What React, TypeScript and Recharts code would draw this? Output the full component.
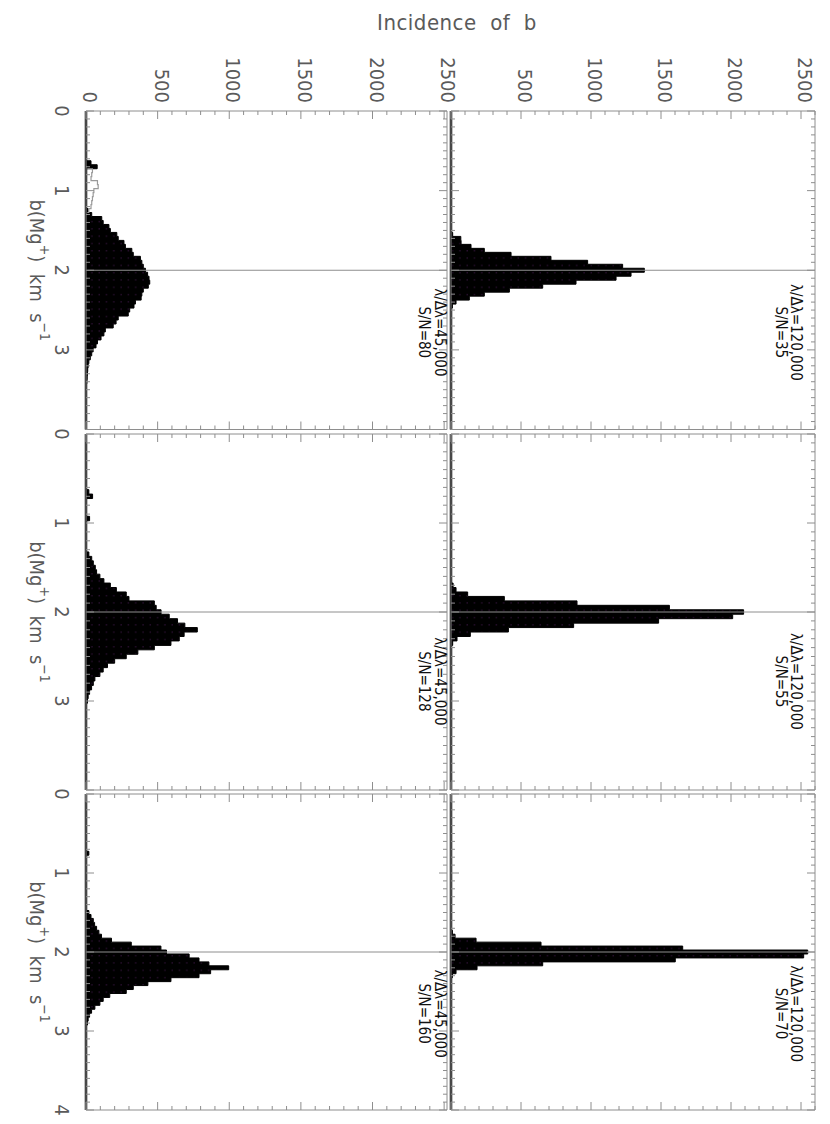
import React from 'react';
import { ComposedChart, Area, Line, XAxis, YAxis, ReferenceLine, ReferenceDot } from 'recharts';

type Bin = [number, number];

// ---- Data: histogram bins [b centre (km/s), incidence] ----
// lambda/dlambda = 120,000
const histR120SN35: Bin[] = [
  [1.5, 0], [1.55, 12], [1.6, 70], [1.65, 72], [1.7, 143], [1.75, 238], [1.8, 429], [1.85, 714],
  [1.9, 976], [1.95, 1226], [2.0, 1381], [2.05, 1286], [2.1, 1179], [2.15, 893], [2.2, 655],
  [2.25, 417], [2.3, 238], [2.35, 131], [2.4, 36], [2.45, 10], [2.5, 0],
];
const histR120SN55: Bin[] = [
  [1.65, 0], [1.7, 15], [1.75, 36], [1.8, 119], [1.85, 381], [1.9, 900], [1.95, 1560], [2.0, 2090],
  [2.05, 2012], [2.1, 1483], [2.15, 876], [2.2, 410], [2.25, 138], [2.3, 43], [2.35, 12], [2.4, 0],
];
const histR120SN70: Bin[] = [
  [1.7, 0], [1.75, 10], [1.8, 29], [1.85, 179], [1.9, 643], [1.95, 1655], [2.0, 2548], [2.05, 2519],
  [2.1, 1602], [2.15, 655], [2.2, 186], [2.25, 36], [2.3, 10], [2.35, 0],
];
// lambda/dlambda = 45,000
const histR45SN80: Bin[] = [
  [0.6, 0], [0.65, 35], [0.7, 78], [0.75, 0],
  [1.2, 0], [1.25, 15], [1.3, 40], [1.35, 110], [1.4, 120], [1.45, 160], [1.5, 170], [1.55, 215],
  [1.6, 225], [1.65, 265], [1.7, 275], [1.75, 320], [1.8, 330], [1.85, 380], [1.9, 390], [1.95, 400],
  [2.0, 415], [2.05, 430], [2.1, 440], [2.15, 445], [2.2, 435], [2.25, 400], [2.3, 390], [2.35, 385],
  [2.4, 345], [2.45, 335], [2.5, 305], [2.55, 295], [2.6, 225], [2.65, 210], [2.7, 190], [2.75, 135],
  [2.8, 125], [2.85, 105], [2.9, 80], [2.95, 70], [3.0, 50], [3.05, 40], [3.1, 30], [3.15, 20],
  [3.2, 15], [3.25, 12], [3.3, 10], [3.35, 8], [3.4, 6], [3.45, 0],
];
const outlineR45SN80: Bin[] = [
  [0.7, 0], [0.75, 45], [0.8, 40], [0.85, 35], [0.9, 80], [0.95, 85], [1.0, 55], [1.05, 50],
  [1.1, 45], [1.15, 40], [1.2, 35], [1.25, 20], [1.3, 0],
];
const histR45SN128: Bin[] = [
  [0.6, 0], [0.65, 20], [0.7, 46], [0.75, 0],
  [0.9, 0], [0.95, 25], [1.0, 0],
  [1.3, 0], [1.35, 20], [1.4, 40], [1.45, 51], [1.5, 65], [1.55, 74], [1.6, 97], [1.65, 125],
  [1.7, 170], [1.75, 212], [1.8, 281], [1.85, 300], [1.9, 477], [1.95, 490], [2.0, 524], [2.05, 581],
  [2.1, 639], [2.15, 690], [2.2, 777], [2.25, 685], [2.3, 651], [2.35, 593], [2.4, 477], [2.45, 362],
  [2.5, 281], [2.55, 200], [2.6, 150], [2.65, 120], [2.7, 97], [2.75, 62], [2.8, 51], [2.85, 39],
  [2.9, 25], [2.95, 15], [3.0, 10], [3.05, 0],
];
const histR45SN160: Bin[] = [
  [0.7, 0], [0.75, 20], [0.8, 0],
  [1.45, 0], [1.5, 20], [1.55, 35], [1.6, 51], [1.65, 60], [1.7, 74], [1.75, 90], [1.8, 108],
  [1.85, 178], [1.9, 316], [1.95, 523], [2.0, 562], [2.05, 720], [2.1, 789], [2.15, 858], [2.2, 996],
  [2.25, 870], [2.3, 789], [2.35, 593], [2.4, 432], [2.45, 330], [2.5, 281], [2.55, 166], [2.6, 120],
  [2.65, 97], [2.7, 62], [2.75, 39], [2.8, 25], [2.85, 15], [2.9, 10], [2.95, 0],
];

// ---- Labels / ticks ----
const resolutions = ['120,000', '45,000'];
const snTop = ['35', '55', '70'];
const snBottom = ['80', '128', '160'];
const bMajorTicks = [0, 1, 2, 3, 4];
const incMajorTicks = [0, 500, 1000, 1500, 2000, 2500];
const bTicks = Array.from({ length: 41 }, (_, i) => i / 10);
const incTicksTop = Array.from({ length: 27 }, (_, i) => i * 100);
const incTicksBottom = Array.from({ length: 26 }, (_, i) => i * 100);
const yMaxTop = 2600;
const yMaxBottom = 2520;
const bReference = 2;
const annotB = 2.78;
const annotTop: [number, number] = [2465, 2360];
const annotBottom: [number, number] = [2470, 2365];

// ---- Styling ----
const FRAME = '#8e8e8e';
const TXT = '#5a5a5a';
const FONT = "'Liberation Sans Narrow', 'DejaVu Sans Condensed', 'Liberation Sans', sans-serif";

const isMajor = (v: number, step: number) => Math.abs(v / step - Math.round(v / step)) < 1e-6;

const makeBottomTick = (labels: boolean, showLast: boolean) => (props: any) => {
  const { x, y, payload } = props;
  const v = payload.value;
  const major = isMajor(v, 1);
  const len = major ? 8 : 4;
  const show = labels && major && bMajorTicks.includes(Math.round(v)) && (Math.round(v) < 4 || showLast);
  return (
    <g>
      <line x1={x} y1={y} x2={x} y2={y - len} stroke={FRAME} strokeWidth={1} />
      {show && (
        <text x={x} y={y + 24} textAnchor="middle" dominantBaseline="central" fontSize={20} fill={TXT} fontFamily={FONT}>
          {Math.round(v)}
        </text>
      )}
    </g>
  );
};
const topTick = (props: any) => {
  const { x, y, payload } = props;
  const len = isMajor(payload.value, 1) ? 8 : 4;
  return <line x1={x} y1={y} x2={x} y2={y + len} stroke={FRAME} strokeWidth={1} />;
};
const makeLeftTick = (labels: boolean, showZero: boolean) => (props: any) => {
  const { x, y, payload } = props;
  const v = payload.value;
  const major = isMajor(v, 500);
  const len = major ? 8 : 4;
  const show = labels && major && incMajorTicks.includes(Math.round(v)) && (v > 0 || showZero);
  return (
    <g>
      <line x1={x} y1={y} x2={x + len} y2={y} stroke={FRAME} strokeWidth={1} />
      {show && (
        <text x={x - 8} y={y - 4} textAnchor="end" dominantBaseline="central" fontSize={20} fill={TXT} fontFamily={FONT}>
          {Math.round(v)}
        </text>
      )}
    </g>
  );
};
const rightTick = (props: any) => {
  const { x, y, payload } = props;
  const len = isMajor(payload.value, 500) ? 8 : 4;
  return <line x1={x} y1={y} x2={x - len} y2={y} stroke={FRAME} strokeWidth={1} />;
};

const BTitle = (props: any) => {
  const vb = props.viewBox || {};
  const cx = vb.x + vb.width / 2;
  const cy = vb.y + 49;
  return (
    <text x={cx} y={cy} textAnchor="middle" dominantBaseline="central" fontSize={20} fill={TXT} fontFamily={FONT} style={{ whiteSpace: 'pre' }}>
      <tspan>b(Mg</tspan>
      <tspan dy={-8} fontSize={14}>+</tspan>
      <tspan dy={8}>)  km  s</tspan>
      <tspan dy={-8} fontSize={14}>−1</tspan>
    </text>
  );
};

type PanelProps = {
  x0: number; x1: number; y0: number; y1: number;
  hist: Bin[]; outline?: Bin[];
  yMax: number; incTicks: number[];
  bottomRow: boolean; firstCol: boolean; lastCol: boolean;
  res: string; sn: string; annot: [number, number]; pid: string;
};

function Panel(p: PanelProps) {
  const ML = 90, MR = 10, MT = 28, MB = 90;
  const w = p.x1 - p.x0 + ML + MR;
  const h = p.y1 - p.y0 + MT + MB;
  const series = p.hist.map(([b, v]) => ({ b, v }));
  const outlineSeries = p.outline ? p.outline.map(([b, v]) => ({ b, v })) : null;
  return (
    <div style={{ position: 'absolute', left: p.x0 - ML, top: p.y0 - MT }}>
      <ComposedChart width={w} height={h} margin={{ top: MT - 1, right: MR - 1, bottom: MB - 1, left: ML - 1 }}>
        <defs>
          <pattern id={p.pid} patternUnits="userSpaceOnUse" width="7.3" height="7.3">
            <rect width="7.3" height="7.3" fill="#000" />
            <rect x="3" y="3" width="1" height="1" fill="#4f1d5c" />
          </pattern>
        </defs>
        <XAxis xAxisId="b" type="number" dataKey="b" domain={[0, 4]} ticks={bTicks} interval={0}
          orientation="bottom" height={1} tickSize={0} tickMargin={0} tickLine={false}
          axisLine={{ stroke: FRAME }} tick={makeBottomTick(p.bottomRow, p.lastCol)} allowDataOverflow
          label={p.bottomRow ? { content: BTitle } : undefined} />
        <XAxis xAxisId="t" type="number" dataKey="b" domain={[0, 4]} ticks={bTicks} interval={0}
          orientation="top" height={1} tickSize={0} tickMargin={0} tickLine={false}
          axisLine={{ stroke: FRAME }} tick={topTick} allowDataOverflow />
        <YAxis yAxisId="l" type="number" domain={[0, p.yMax]} ticks={p.incTicks} interval={0}
          orientation="left" width={1} tickSize={0} tickMargin={0} tickLine={false}
          axisLine={{ stroke: FRAME }} tick={makeLeftTick(p.firstCol, p.bottomRow)} allowDataOverflow />
        <YAxis yAxisId="r" type="number" domain={[0, p.yMax]} ticks={p.incTicks} interval={0}
          orientation="right" width={1} tickSize={0} tickMargin={0} tickLine={false}
          axisLine={{ stroke: FRAME }} tick={rightTick} allowDataOverflow />
        <ReferenceLine xAxisId="b" yAxisId="l" x={bReference} stroke={FRAME} strokeWidth={1} />
        <Area xAxisId="b" yAxisId="l" data={series} dataKey="v" type="step" baseValue={0}
          fill={`url(#${p.pid})`} fillOpacity={1} stroke="#000" strokeWidth={1}
          dot={false} activeDot={false} isAnimationActive={false} />
        {outlineSeries && (
          <Line xAxisId="b" yAxisId="l" data={outlineSeries} dataKey="v" type="step"
            stroke="#9a9a9a" strokeWidth={1.2} dot={false} activeDot={false} isAnimationActive={false} />
        )}
        <ReferenceLine xAxisId="b" yAxisId="l" y={0} stroke="#000" strokeWidth={2.5} />
        <ReferenceDot xAxisId="b" yAxisId="l" x={annotB} y={p.annot[0]} r={0} fill="none" stroke="none"
          label={{ value: `λ/Δλ=${p.res}`, position: 'center', fill: '#111', fontSize: 15, fontFamily: FONT }} />
        <ReferenceDot xAxisId="b" yAxisId="l" x={annotB} y={p.annot[1]} r={0} fill="none" stroke="none"
          label={{ value: `S/N=${p.sn}`, position: 'center', fill: '#111', fontSize: 15, fontFamily: FONT }} />
      </ComposedChart>
    </div>
  );
}

// panel geometry in the un-rotated (landscape) frame
const colX: [number, number][] = [[111, 429.5], [433.5, 789.5], [794, 1110]];
const topRowY: [number, number] = [15, 379];
const bottomRowY: [number, number] = [383, 744];

export default function App() {
  const topHists = [histR120SN35, histR120SN55, histR120SN70];
  const bottomHists = [histR45SN80, histR45SN128, histR45SN160];
  return (
    <div style={{ position: 'absolute', left: 0, top: 0, width: 830, height: 1124, background: '#fff', overflow: 'hidden' }}>
      <div style={{ position: 'absolute', left: 0, top: 0, width: 1124, height: 830, transformOrigin: '0 0', transform: 'translate(830px, 0px) rotate(90deg)' }}>
        <svg width={60} height={830} style={{ position: 'absolute', left: 0, top: 0 }}>
          <text x={22} y={373} transform="rotate(-90 22 373)" textAnchor="middle" dominantBaseline="central"
            fontSize={22} letterSpacing={0.5} fill={TXT} fontFamily={FONT} style={{ whiteSpace: 'pre' }}>Incidence  of  b</text>
        </svg>
        {colX.map(([x0, x1], i) => (
          <Panel key={`t${i}`} x0={x0} x1={x1} y0={topRowY[0]} y1={topRowY[1]} hist={topHists[i]}
            yMax={yMaxTop} incTicks={incTicksTop} bottomRow={false} firstCol={i === 0} lastCol={i === 2}
            res={resolutions[0]} sn={snTop[i]} annot={annotTop} pid={`dotsT${i}`} />
        ))}
        {colX.map(([x0, x1], i) => (
          <Panel key={`b${i}`} x0={x0} x1={x1} y0={bottomRowY[0]} y1={bottomRowY[1]} hist={bottomHists[i]}
            outline={i === 0 ? outlineR45SN80 : undefined}
            yMax={yMaxBottom} incTicks={incTicksBottom} bottomRow={true} firstCol={i === 0} lastCol={i === 2}
            res={resolutions[1]} sn={snBottom[i]} annot={annotBottom} pid={`dotsB${i}`} />
        ))}
      </div>
    </div>
  );
}
